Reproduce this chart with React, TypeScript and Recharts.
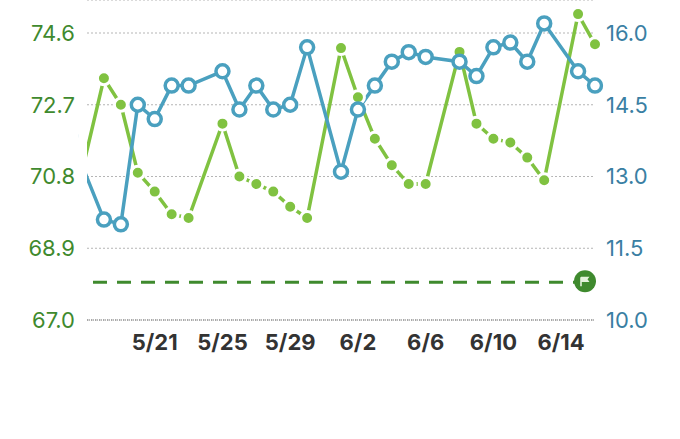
import React from 'react';
import {
  ComposedChart,
  Line,
  XAxis,
  YAxis,
  CartesianGrid,
  ReferenceLine,
} from 'recharts';

const dates = ['5/16', '5/18', '5/19', '5/20', '5/21', '5/22', '5/23', '5/25', '5/26', '5/27', '5/28', '5/29', '5/30', '6/1', '6/2', '6/3', '6/4', '6/5', '6/6', '6/8', '6/9', '6/10', '6/11', '6/12', '6/13', '6/15', '6/16'];
const weight = [69.6, 73.4, 72.7, 70.9, 70.4, 69.8, 69.7, 72.2, 70.8, 70.6, 70.4, 70.0, 69.7, 74.2, 72.9, 71.8, 71.1, 70.6, 70.6, 74.1, 72.2, 71.8, 71.7, 71.3, 70.7, 75.1, 74.3];
const other = [13.85, 12.1, 12.0, 14.5, 14.2, 14.9, 14.9, 15.2, 14.4, 14.9, 14.4, 14.5, 15.7, 13.1, 14.4, 14.9, 15.4, 15.6, 15.5, 15.4, 15.1, 15.7, 15.8, 15.4, 16.2, 15.2, 14.9];
const leftTicks = [67.0, 68.9, 70.8, 72.7, 74.6];
const rightTicks = [10.0, 11.5, 13.0, 14.5, 16.0];
const dateTicks = ['5/21', '5/25', '5/29', '6/2', '6/6', '6/10', '6/14'];
const goal = 68.0;

const GREEN = '#80c241';
const DARK_GREEN = '#3f8a2e';
const BLUE = '#4aa0bf';
const BLUE_TEXT = '#3a7fa3';
const FONT = 'Inter, "Liberation Sans", Arial, sans-serif';

// 'M/D' -> day number (May 1 = 1, June 1 = 32)
const toDay = (d: string) => {
  const [m, day] = d.split('/').map(Number);
  return m === 5 ? day : 31 + day;
};
const fromDay = (n: number) => (n <= 31 ? `5/${n}` : `6/${n - 31}`);

const data = dates.map((d, i) => ({ day: toDay(d), weight: weight[i], other: other[i] }));

// dashed goal line ending in a round flag badge
const FlagLine = (props: any) => {
  const { x1, x2, y1 } = props;
  const sx = x1 + 6;
  const ex = x2 - 10;
  const cy = y1 - 1;
  return (
    <g>
      <line x1={sx} y1={y1} x2={ex} y2={y1} stroke={DARK_GREEN} strokeWidth={3} strokeDasharray="14 10" />
      <circle cx={ex} cy={cy} r={11} fill={DARK_GREEN} />
      <line x1={ex - 4} y1={cy - 4} x2={ex - 4} y2={cy + 5} stroke="#e4f2dc" strokeWidth={1.6} />
      <path d={`M${ex - 4} ${cy - 4.5} L${ex + 4.5} ${cy - 4.5} L${ex + 2.5} ${cy - 2} L${ex + 4.5} ${cy + 0.8} L${ex - 4} ${cy + 0.8} Z`} fill="#e4f2dc" />
    </g>
  );
};

export default function App() {
  return (
    <div style={{ position: 'absolute', left: 0, top: 0, width: 680, height: 439, background: '#fff' }}>
      <ComposedChart width={680} height={439} data={data} margin={{ top: 0, right: 0, bottom: 0, left: 0 }}>
        <CartesianGrid yAxisId="left" vertical={false} stroke="#b5b5b5" strokeDasharray="2 2" />
        <XAxis
          type="number"
          dataKey="day"
          domain={[17, 47]}
          allowDataOverflow
          ticks={dateTicks.map(toDay)}
          tickFormatter={fromDay}
          height={119}
          tickLine={false}
          tickMargin={8}
          axisLine={{ stroke: '#777', strokeDasharray: '1 1' }}
          tick={{ fill: '#333', fontSize: 22, fontWeight: 700, fontFamily: FONT }}
        />
        <YAxis
          yAxisId="left"
          orientation="left"
          domain={[67, 75.474]}
          allowDataOverflow
          ticks={leftTicks}
          tickFormatter={(v: number) => v.toFixed(1)}
          width={87}
          axisLine={false}
          tickLine={false}
          tickMargin={6}
          tick={{ fill: DARK_GREEN, fontSize: 22, fontFamily: FONT }}
        />
        <YAxis
          yAxisId="right"
          orientation="right"
          domain={[10, 16.69]}
          allowDataOverflow
          ticks={rightTicks}
          tickFormatter={(v: number) => v.toFixed(1)}
          width={85}
          axisLine={false}
          tickLine={false}
          tickMargin={5}
          tick={{ fill: BLUE_TEXT, fontSize: 22, fontFamily: FONT }}
        />
        <ReferenceLine yAxisId="left" y={goal} shape={FlagLine} />
        <Line
          yAxisId="left"
          type="linear"
          dataKey="weight"
          stroke={GREEN}
          strokeWidth={3.5}
          dot={{ r: 6.5, fill: GREEN, stroke: '#fff', strokeWidth: 3, clipDot: false }}
          isAnimationActive={false}
        />
        <Line
          yAxisId="right"
          type="linear"
          dataKey="other"
          stroke={BLUE}
          strokeWidth={3.5}
          dot={{ r: 6.5, fill: '#fff', stroke: BLUE, strokeWidth: 3.5, clipDot: false }}
          isAnimationActive={false}
        />
      </ComposedChart>
    </div>
  );
}
